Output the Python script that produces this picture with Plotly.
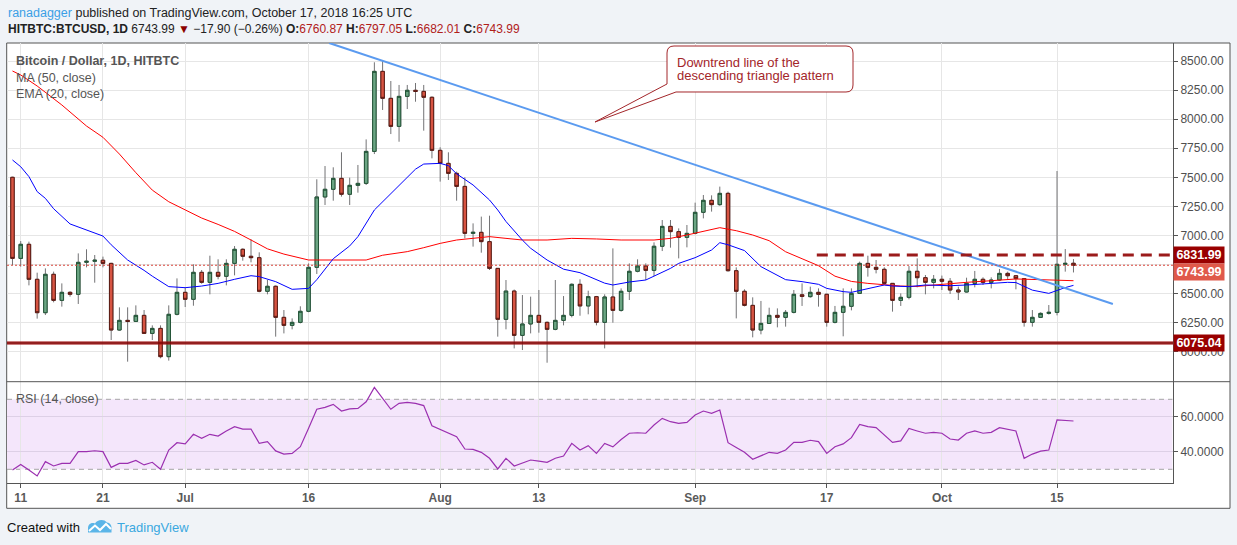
"""BTCUSD daily chart (HITBTC) in the TradingView look, rebuilt with plotly."""

import pandas as pd
import plotly.graph_objects as go

# ---- daily candles, 10 Jun - 17 Oct 2018 ----
dates = pd.date_range("2018-06-10", "2018-10-17", freq="D")

opens = [
    7500, 6803, 6924, 6623, 6336, 6666, 6442, 6511, 6494, 6769, 6778, 6787, 6760, 6187, 6270, 6261, 6313, 6158, 6201, 5958, 6322,
    6511, 6451, 6683, 6597, 6683, 6649, 6760, 6881, 6821, 6809, 6520, 6563, 6296, 6227, 6253, 6348, 6726, 7331, 7397, 7491,
    7354, 7431, 7448, 7723, 8411, 8179, 7938, 8196, 8248, 8239, 8188,
    7732, 7620, 7534, 7422, 7018, 7027, 6947, 6717, 6279, 6522, 6141, 6239, 6313, 6253, 6193, 6270, 6313, 6580, 6394, 6474,
    6253, 6471, 6356, 6520, 6692, 6737, 6700, 6907, 7078, 7033, 6984,
    7018, 7199, 7302, 7265, 7362, 6697, 6520, 6399, 6187, 6244, 6313, 6296, 6339, 6490, 6474, 6511, 6494, 6253, 6339, 6391,
    6502, 6760, 6726, 6709, 6588, 6442, 6468, 6692, 6637, 6597,
    6623, 6606, 6531, 6514, 6588, 6623, 6597, 6617, 6674, 6654, 6629, 6253, 6296, 6330, 6339, 6752, 6760.87,
]
highs = [
    7505, 6952, 6947, 6680, 6717, 6689, 6588, 6520, 6846, 6881, 6832, 6818, 6765, 6382, 6382, 6399, 6359, 6227, 6227, 6399, 6631,
    6554, 6752, 6703, 6826, 6795, 6795, 6909, 6889, 6967, 6855, 6617, 6570, 6359, 6287, 6391, 6760, 7483, 7597, 7586, 7715,
    7497, 7606, 7826, 8489, 8503, 8328, 8294, 8294, 8311, 8294, 8195,
    7758, 7715, 7549, 7500, 7104, 7162, 7170, 6720, 6617, 6535, 6488, 6474, 6531, 6260, 6617, 6479, 6588, 6623, 6525, 6480,
    6494, 6889, 6545, 6760, 6795, 6760, 6941, 7133, 7133, 7061, 7090,
    7282, 7348, 7345, 7420, 7376, 6726, 6537, 6468, 6437, 6379, 6373, 6359, 6531, 6588, 6560, 6545, 6500, 6394, 6545, 6545,
    6775, 6826, 6789, 6726, 6590, 6502, 6737, 6803, 6660, 6660,
    6655, 6634, 6560, 6637, 6695, 6640, 6640, 6712, 6689, 6660, 6634, 6359, 6339, 6402, 7554, 6883, 6797.05,
]
lows = [
    6746, 6732, 6571, 6285, 6316, 6425, 6388, 6474, 6411, 6726, 6594, 6726, 6101, 6181, 5915, 6259, 6153, 6101, 5944, 5924, 6313,
    6385, 6396, 6585, 6494, 6623, 6571, 6657, 6783, 6769, 6511, 6494, 6130, 6158, 6193, 6244, 6340, 6669, 7262, 7299, 7334,
    7262, 7368, 7434, 7700, 8079, 7872, 7806, 8087, 8150, 7901, 7663,
    7463, 7477, 7299, 6975, 6904, 6852, 6703, 6130, 6193, 6029, 6015, 6158, 6164, 5906, 6185, 6227, 6296, 6310, 6322, 6227,
    6029, 6250, 6345, 6445, 6683, 6617, 6651, 6866, 6895, 6803, 6898,
    7010, 7147, 7205, 7255, 6690, 6287, 6390, 6124, 6150, 6240, 6210, 6216, 6330, 6394, 6465, 6388, 6216, 6244, 6133, 6356,
    6500, 6646, 6674, 6580, 6345, 6394, 6451, 6554, 6494, 6545,
    6531, 6497, 6445, 6510, 6554, 6574, 6545, 6610, 6617, 6537, 6216, 6216, 6290, 6320, 6313, 6689, 6682.01,
]
closes = [
    6803, 6924, 6623, 6336, 6666, 6442, 6511, 6494, 6769, 6778, 6787, 6760, 6187, 6270, 6261, 6313, 6158, 6201, 5958, 6322, 6511,
    6451, 6683, 6597, 6683, 6649, 6760, 6881, 6821, 6809, 6520, 6563, 6296, 6227, 6253, 6348, 6726, 7331, 7397, 7491, 7354,
    7431, 7448, 7723, 8411, 8179, 7938, 8196, 8248, 8239, 8188, 7732,
    7620, 7534, 7422, 7018, 7027, 6947, 6717, 6279, 6522, 6141, 6239, 6313, 6253, 6193, 6270, 6313, 6580, 6394, 6474, 6253,
    6471, 6356, 6520, 6692, 6737, 6700, 6907, 7078, 7033, 6984, 7018,
    7199, 7302, 7265, 7362, 6697, 6520, 6399, 6187, 6244, 6313, 6296, 6339, 6494, 6476, 6511, 6494, 6253, 6339, 6391, 6502,
    6760, 6726, 6709, 6588, 6442, 6468, 6692, 6637, 6597, 6623,
    6606, 6531, 6514, 6588, 6623, 6597, 6617, 6674, 6654, 6629, 6253, 6296, 6330, 6339, 6752, 6760, 6743.99,
]

# ---- RSI (14, close), one value per candle ----
rsi = [
    29.6, 32.8, 29.6, 26.2, 34.4, 31.9, 33.4, 33.4, 40.1, 40.1, 40.6, 40.1, 31.1, 33.4, 33.4, 35.1, 32.5, 34.0, 30.0, 41.0, 45.2,
    44.5, 50.0, 47.7, 50.0, 49.0, 51.9, 54.4, 53.0, 53.0, 44.8, 45.8, 40.5, 38.7, 39.1, 42.9, 53.4, 64.3, 65.4, 67.1, 63.3,
    64.5, 64.8, 68.6, 76.8, 70.6, 64.3, 67.7, 68.3, 67.7, 66.4, 54.9,
    52.8, 50.6, 48.6, 41.6, 41.4, 39.7, 36.3, 30.2, 36.3, 31.9, 33.8, 35.3, 34.7, 34.0, 36.3, 37.6, 44.8, 41.0, 43.5, 39.1,
    44.8, 42.8, 47.0, 50.6, 50.9, 50.6, 55.3, 59.1, 57.2, 56.3, 56.8,
    61.0, 63.3, 62.0, 63.9, 45.2, 42.4, 39.7, 35.7, 37.6, 39.7, 39.1, 41.0, 45.4, 45.4, 46.6, 45.8, 39.1, 42.9, 44.5, 48.1,
    55.7, 54.4, 53.8, 49.6, 45.4, 46.2, 53.3, 51.9, 50.6, 51.1,
    50.6, 47.3, 46.7, 50.6, 51.9, 50.6, 51.1, 53.8, 52.9, 51.9, 36.3, 38.7, 40.4, 41.0, 58.2, 58.0, 57.6,
]

# ---- MA (50, close) ----
ma_dates = [
    "2018-06-10", "2018-06-11", "2018-06-13", "2018-06-16", "2018-06-19", "2018-06-21", "2018-06-23", "2018-06-25",
    "2018-06-27", "2018-06-29", "2018-07-01", "2018-07-03", "2018-07-05", "2018-07-07", "2018-07-09", "2018-07-11",
    "2018-07-13", "2018-07-16", "2018-07-19", "2018-07-23", "2018-07-25", "2018-07-28", "2018-07-30", "2018-08-01",
    "2018-08-03", "2018-08-05", "2018-08-07", "2018-08-09", "2018-08-11", "2018-08-14", "2018-08-17", "2018-08-20",
    "2018-08-23", "2018-08-27", "2018-08-29", "2018-08-31", "2018-09-02", "2018-09-04", "2018-09-06", "2018-09-08",
    "2018-09-10", "2018-09-12", "2018-09-14", "2018-09-16", "2018-09-18", "2018-09-20", "2018-09-22", "2018-09-24",
    "2018-09-26", "2018-09-28", "2018-10-02", "2018-10-04", "2018-10-07", "2018-10-10", "2018-10-13", "2018-10-15",
    "2018-10-17",
]
ma_values = [
    8414, 8380, 8285, 8122, 7941, 7844, 7700, 7540,
    7390, 7290, 7220, 7150, 7095, 7035, 6961, 6885,
    6840, 6789, 6789, 6789, 6830, 6861, 6895, 6932,
    6961, 6975, 6990, 6975, 6961, 6961, 6975, 6970,
    6961, 6961, 6975, 7004, 7033, 7067, 7041, 7004,
    6955, 6860, 6800, 6740, 6650, 6605, 6588, 6575,
    6565, 6562, 6588, 6597, 6611, 6626, 6620, 6617,
    6611,
]

# ---- EMA (20, close) ----
ema_dates = [
    "2018-06-10", "2018-06-11", "2018-06-12", "2018-06-13", "2018-06-14", "2018-06-15", "2018-06-17", "2018-06-19",
    "2018-06-21", "2018-06-22", "2018-06-24", "2018-06-26", "2018-06-27", "2018-06-29", "2018-07-01", "2018-07-03",
    "2018-07-05", "2018-07-07", "2018-07-09", "2018-07-10", "2018-07-12", "2018-07-14", "2018-07-16", "2018-07-17",
    "2018-07-19", "2018-07-21", "2018-07-22", "2018-07-24", "2018-07-26", "2018-07-27", "2018-07-29", "2018-07-30",
    "2018-08-01", "2018-08-02", "2018-08-03", "2018-08-05", "2018-08-07", "2018-08-08", "2018-08-09", "2018-08-11",
    "2018-08-12", "2018-08-14", "2018-08-16", "2018-08-18", "2018-08-20", "2018-08-21", "2018-08-22", "2018-08-24",
    "2018-08-26", "2018-08-27", "2018-08-29", "2018-08-30", "2018-09-01", "2018-09-03", "2018-09-04", "2018-09-05",
    "2018-09-07", "2018-09-09", "2018-09-11", "2018-09-12", "2018-09-14", "2018-09-16", "2018-09-17", "2018-09-19",
    "2018-09-20", "2018-09-22", "2018-09-24", "2018-09-25", "2018-09-27", "2018-09-29", "2018-10-02", "2018-10-04",
    "2018-10-07", "2018-10-09", "2018-10-10", "2018-10-11", "2018-10-12", "2018-10-14", "2018-10-15", "2018-10-16",
    "2018-10-17",
]
ema_values = [
    7649, 7591, 7506, 7377, 7319, 7230, 7099, 7045,
    6995, 6920, 6789, 6700, 6650, 6560, 6551, 6565,
    6588, 6623, 6654, 6646, 6603, 6537, 6545, 6620,
    6800, 6910, 6990, 7219, 7360, 7430, 7570, 7614,
    7620, 7600, 7530, 7434, 7305, 7219, 7120, 6960,
    6890, 6789, 6710, 6680, 6623, 6590, 6574, 6600,
    6617, 6650, 6717, 6760, 6809, 6875, 6938, 6920,
    6870, 6732, 6660, 6620, 6603, 6580, 6545, 6517,
    6511, 6545, 6574, 6565, 6560, 6574, 6568, 6574,
    6588, 6597, 6595, 6560, 6530, 6502, 6530, 6552,
    6571,
]

# ---- drawings ----
trend_dates = ["2018-07-18 12:00", "2018-10-21 19:00"]
trend_prices = [8655, 6411]
support_level = 6075.04
resistance_level = 6831.99
resistance_start = "2018-09-15 19:00"
last_price = 6743.99

price_ticks = [6000, 6250, 6500, 6750, 7000, 7250, 7500, 7750, 8000, 8250, 8500]
hidden_ticks = [6750]  # covered by the price labels on the real chart
rsi_ticks = [40, 60]
date_ticks = ["2018-06-11", "2018-06-21", "2018-07-01", "2018-07-16", "2018-08-01",
              "2018-08-13", "2018-09-01", "2018-09-17", "2018-10-01", "2018-10-15"]
date_labels = ["11", "21", "Jul", "16", "Aug", "13", "Sep", "17", "Oct", "15"]

# ---- look ----
FONT = "Liberation Sans, Arial, sans-serif"
UP, DOWN = "#6ba583", "#d75442"
UP_EDGE, DOWN_EDGE = "#225437", "#5b1a13"
WICK = "#737375"
GRID = "#e6e6e6"
FRAME = "#555555"
LABEL_RED = "#990000"

W, H = 1237, 545
ML, MR, MT, MB = 7, 64, 43, 62
PW, PH = W - ML - MR, H - MT - MB
SPLIT_Y = 381.7  # pixel row between price pane and RSI pane


def px(x):
    return (x - ML) / PW


def py(y):
    return (H - MB - y) / PH


def pt(x, y):
    return f"{px(x):.5f},{py(y):.5f}"


split = py(SPLIT_Y)

fig = go.Figure()

fig.add_trace(go.Scatter(x=ma_dates, y=ma_values, mode="lines",
                         line=dict(color="#ff0000", width=1), hoverinfo="skip"))
fig.add_trace(go.Scatter(x=ema_dates, y=ema_values, mode="lines",
                         line=dict(color="#0000ff", width=1), hoverinfo="skip"))

# wicks (grey) under the bodies (dark edged)
fig.add_trace(go.Candlestick(
    x=dates, open=opens, high=highs, low=lows, close=closes,
    increasing=dict(line=dict(color=WICK, width=1), fillcolor=UP),
    decreasing=dict(line=dict(color=WICK, width=1), fillcolor=DOWN),
    whiskerwidth=0, hoverinfo="skip",
))
body_top = [max(o, c) for o, c in zip(opens, closes)]
body_bot = [min(o, c) for o, c in zip(opens, closes)]
fig.add_trace(go.Candlestick(
    x=dates, open=opens, high=body_top, low=body_bot, close=closes,
    increasing=dict(line=dict(color=UP_EDGE, width=1), fillcolor=UP),
    decreasing=dict(line=dict(color=DOWN_EDGE, width=1), fillcolor=DOWN),
    whiskerwidth=0, hoverinfo="skip",
))

fig.add_trace(go.Scatter(x=trend_dates, y=trend_prices, mode="lines",
                         line=dict(color="#5b9bf0", width=2), hoverinfo="skip"))

fig.add_trace(go.Scatter(x=dates, y=rsi, mode="lines", yaxis="y2",
                         line=dict(color="#9b30b0", width=1.2), hoverinfo="skip"))

shapes = [
    # chart box
    dict(type="rect", xref="paper", yref="paper", x0=px(6.7), x1=px(1230), y0=py(508.3), y1=py(43),
         fillcolor="#ffffff", line=dict(color=FRAME, width=1), layer="below"),
    dict(type="line", xref="paper", yref="paper", x0=px(6.7), x1=px(1230), y0=split, y1=split,
         line=dict(color=FRAME, width=1)),
    # RSI band
    dict(type="rect", xref="x domain", yref="y2", x0=0, x1=0.9995, y0=30, y1=70,
         fillcolor="#f4e6fb", line=dict(width=0), layer="below"),
    dict(type="line", xref="x domain", yref="y2", x0=0, x1=0.9995, y0=70, y1=70,
         line=dict(color="#a6a6a6", width=1, dash="5px,4px"), layer="below"),
    dict(type="line", xref="x domain", yref="y2", x0=0, x1=0.9995, y0=30, y1=30,
         line=dict(color="#a6a6a6", width=1, dash="5px,4px"), layer="below"),
    # levels
    dict(type="line", xref="x domain", yref="y", x0=0, x1=1, y0=last_price, y1=last_price,
         line=dict(color="#d9463b", width=1, dash="2px,2px")),
    dict(type="line", xref="x domain", yref="y", x0=0, x1=1, y0=support_level, y1=support_level,
         line=dict(color="rgba(160,20,20,0.55)", width=4)),
    dict(type="line", xref="x domain", yref="y", x0=0, x1=1, y0=support_level, y1=support_level,
         line=dict(color="#800000", width=1.5)),
    dict(type="line", xref="x", yref="y", x0=resistance_start, x1="2018-10-29 02:00",
         y0=resistance_level, y1=resistance_level,
         line=dict(color="#9b1b1b", width=3, dash="11px,7px")),
]

# callout bubble
L_, R_, T_, B_, r = 667, 853, 46, 92, 7
callout = (f"M{pt(667, 84)} L{pt(595, 122)} L{pt(676, B_)} L{pt(R_ - r, B_)} "
           f"Q{pt(R_, B_)} {pt(R_, B_ - r)} L{pt(R_, T_ + r)} Q{pt(R_, T_)} {pt(R_ - r, T_)} "
           f"L{pt(L_ + r, T_)} Q{pt(L_, T_)} {pt(L_, T_ + r)} Z")
shapes.append(dict(type="path", xref="paper", yref="paper", path=callout,
                   fillcolor="#ffffff", line=dict(color="#a3262a", width=1)))

# TradingView logo in the footer
logo = (f"M{pt(88, 532.5)} L{pt(88, 528)} C{pt(88, 524)} {pt(92, 522)} {pt(95, 523.5)} "
        f"C{pt(97, 519.5)} {pt(104, 518.5)} {pt(107, 522.5)} C{pt(110, 522.5)} {pt(112, 526)} {pt(111.5, 528.5)} "
        f"L{pt(111.5, 532.5)} Z")
shapes.append(dict(type="path", xref="paper", yref="paper", path=logo,
                   fillcolor="#5bb5e8", line=dict(width=0)))
shapes.append(dict(type="path", xref="paper", yref="paper",
                   path=f"M{pt(89, 531)} L{pt(95, 525.5)} L{pt(100, 530)} L{pt(106, 524)} L{pt(111, 529)}",
                   line=dict(color="#ffffff", width=2)))


def note(x, y, text, size=12.5, color="#4f4f4f", **kw):
    return dict(xref="paper", yref="paper", x=px(x), y=py(y), text=text, showarrow=False,
                xanchor="left", yanchor="middle", font=dict(family=FONT, size=size, color=color), **kw)


RED_TXT = "#b0201a"
annotations = [
    note(6, 13, "<span style='color:#3ba0e6'>ranadagger</span> published on TradingView.com, "
                "October 17, 2018 16:25 UTC", color="#222222"),
    note(6, 29.5, "<b>HITBTC:BTCUSD, 1D</b> 6743.99 <span style='color:#8b0000'>▼</span> "
                  "−17.90 (−0.26%) "
                  f"<b>O:</b><span style='color:{RED_TXT}'>6760.87</span> "
                  f"<b>H:</b><span style='color:{RED_TXT}'>6797.05</span> "
                  f"<b>L:</b><span style='color:{RED_TXT}'>6682.01</span> "
                  f"<b>C:</b><span style='color:{RED_TXT}'>6743.99</span>", size=12, color="#222222"),
    note(14, 60.7, "<b>Bitcoin / Dollar, 1D, HITBTC</b>", color="#555555"),
    note(14, 77.7, "MA (50, close)", color="#555555"),
    note(14, 94.3, "EMA (20, close)", color="#555555"),
    note(14, 399, "RSI (14, close)", color="#555555"),
    note(675, 62.7, "Downtrend line of the", size=13, color="#a3262a"),
    note(675, 75, "descending triangle pattern", size=13, color="#a3262a"),
    note(5, 527, "Created with", size=13, color="#111111"),
    note(115, 527, "TradingView", size=13, color="#3aa8e0"),
]

for level, text, bg, shift in [(resistance_level, "6831.99", LABEL_RED, 0),
                               (last_price, "6743.99", "#e0594a", -7),
                               (support_level, "6075.04", LABEL_RED, 0)]:
    annotations.append(dict(xref="paper", yref="y", x=1, y=level, xanchor="left", yanchor="middle",
                            yshift=shift, text=f"<b>{text}</b>", showarrow=False, bgcolor=bg, borderpad=2,
                            width=46, height=12, align="center",
                            font=dict(family=FONT, size=12.5, color="#ffffff")))

axis_font = dict(family=FONT, size=12, color="#4f4f4f")

fig.update_layout(
    width=W, height=H,
    margin=dict(l=ML, r=MR, t=MT, b=MB),
    paper_bgcolor="#f0f3f7", plot_bgcolor="#ffffff",
    showlegend=False,
    font=dict(family=FONT, size=12, color="#4f4f4f"),
    boxgap=0.4,
    xaxis=dict(
        type="date", anchor="y2",
        range=["2018-06-09 08:00", "2018-10-29 02:24"],
        tickvals=date_ticks, ticktext=[f"<b>{t}</b>" for t in date_labels],
        ticks="outside", ticklen=4, tickcolor=FRAME,
        showgrid=True, gridcolor=GRID, zeroline=False,
        showline=True, linecolor=FRAME,
        tickfont=dict(family=FONT, size=12, color="#5a5a5a"),
        rangeslider=dict(visible=False), fixedrange=True,
    ),
    yaxis=dict(
        domain=[split, 1], anchor="x", side="right",
        range=[5742.7, 8654.8],
        tickvals=price_ticks,
        ticktext=["" if v in hidden_ticks else f"{v:.2f}" for v in price_ticks],
        ticks="outside", ticklen=4, tickcolor=FRAME,
        showgrid=True, gridcolor=GRID, zeroline=False,
        showline=True, linecolor=FRAME, tickfont=axis_font, fixedrange=True,
    ),
    yaxis2=dict(
        domain=[0, split], anchor="x", side="right",
        range=[22.17, 80.06],
        tickvals=rsi_ticks, ticktext=[f"{v:.4f}" for v in rsi_ticks],
        ticks="outside", ticklen=4, tickcolor=FRAME,
        showgrid=True, gridcolor="#ddd0e6", zeroline=False,
        showline=True, linecolor=FRAME, tickfont=axis_font, fixedrange=True,
    ),
    shapes=shapes,
    annotations=annotations,
)

# the page's default 8px body margin would push the whole figure off by 8px
fig.write_html("out.html", config={"displayModeBar": False},
               post_script="document.body.style.margin='0';")
